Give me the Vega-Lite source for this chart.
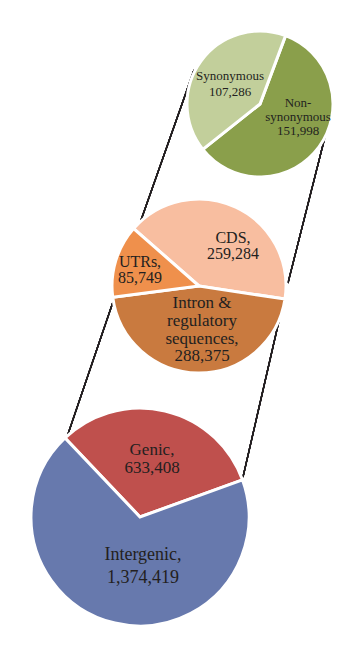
{
  "$schema": "https://vega.github.io/schema/vega-lite/v6.json",
  "width": 363,
  "height": 660,
  "autosize": {"type": "fit", "contains": "padding"},
  "padding": 0,
  "background": "white",
  "config": {"view": {"stroke": null}, "text": {"font": "Liberation Serif", "fill": "#231f20"}},
  "data": {
    "values": [
      {"pie": "Genome", "label": "Genic", "value": 633408, "text": ["Genic,", "633,408"]},
      {"pie": "Genome", "label": "Intergenic", "value": 1374419, "text": ["Intergenic,", "1,374,419"]},
      {"pie": "Genic", "label": "CDS", "value": 259284, "text": ["CDS,", "259,284"]},
      {"pie": "Genic", "label": "Intron & regulatory sequences", "value": 288375, "text": ["Intron &", "regulatory", "sequences,", "288,375"]},
      {"pie": "Genic", "label": "UTRs", "value": 85749, "text": ["UTRs,", "85,749"]},
      {"pie": "CDS", "label": "Non-synonymous", "value": 151998, "text": ["Non-", "synonymous", "151,998"]},
      {"pie": "CDS", "label": "Synonymous", "value": 107286, "text": ["Synonymous", "107,286"]}
    ]
  },
  "layer": [
    {
      "mark": {"type": "rule", "color": "#231f20", "strokeWidth": 1.3},
      "encoding": {
        "x": {"datum": 67, "type": "quantitative", "scale": {"domain": [0, 363], "nice": false, "zero": false}, "axis": null},
        "y": {"datum": 437, "type": "quantitative", "scale": {"domain": [0, 660], "nice": false, "zero": false, "reverse": true}, "axis": null},
        "x2": {"datum": 114},
        "y2": {"datum": 299}
      }
    },
    {
      "mark": {"type": "rule", "color": "#231f20", "strokeWidth": 1.3},
      "encoding": {
        "x": {"datum": 243, "type": "quantitative"},
        "y": {"datum": 477, "type": "quantitative"},
        "x2": {"datum": 284},
        "y2": {"datum": 299}
      }
    },
    {
      "mark": {"type": "rule", "color": "#231f20", "strokeWidth": 1.3},
      "encoding": {
        "x": {"datum": 140, "type": "quantitative"},
        "y": {"datum": 223, "type": "quantitative"},
        "x2": {"datum": 194},
        "y2": {"datum": 70}
      }
    },
    {
      "mark": {"type": "rule", "color": "#231f20", "strokeWidth": 1.3},
      "encoding": {
        "x": {"datum": 288, "type": "quantitative"},
        "y": {"datum": 283, "type": "quantitative"},
        "x2": {"datum": 330},
        "y2": {"datum": 117}
      }
    },
    {
      "transform": [{"filter": "datum.pie === 'Genome'"}],
      "mark": {"type": "arc", "outerRadius": 109, "stroke": "white", "strokeWidth": 3},
      "encoding": {
        "x": {"datum": 140, "type": "quantitative"},
        "y": {"datum": 517, "type": "quantitative"},
        "theta": {"field": "value", "type": "quantitative", "stack": true, "scale": {"range": [-0.759, 5.524]}},
        "order": {"field": "label", "sort": "ascending"},
        "color": {
          "field": "label", "type": "nominal", "legend": null,
          "scale": {
            "domain": ["Genic", "Intergenic", "CDS", "Intron & regulatory sequences", "UTRs", "Non-synonymous", "Synonymous"],
            "range": ["#bf504d", "#6779ad", "#f8bea0", "#c97a3f", "#ef904c", "#8a9f4b", "#c2cf9b"]
          }
        }
      }
    },
    {
      "transform": [{"filter": "datum.pie === 'Genic'"}],
      "mark": {"type": "arc", "outerRadius": 87, "stroke": "white", "strokeWidth": 3},
      "encoding": {
        "x": {"datum": 199, "type": "quantitative"},
        "y": {"datum": 286, "type": "quantitative"},
        "theta": {"field": "value", "type": "quantitative", "stack": true, "scale": {"range": [-0.85, 5.433]}},
        "order": {"field": "label", "sort": "ascending"},
        "color": {"field": "label", "type": "nominal", "legend": null}
      }
    },
    {
      "transform": [{"filter": "datum.pie === 'CDS'"}],
      "mark": {"type": "arc", "outerRadius": 73, "stroke": "white", "strokeWidth": 3},
      "encoding": {
        "x": {"datum": 260, "type": "quantitative"},
        "y": {"datum": 104, "type": "quantitative"},
        "theta": {"field": "value", "type": "quantitative", "stack": true, "scale": {"range": [0.358, 6.641]}},
        "order": {"field": "label", "sort": "ascending"},
        "color": {"field": "label", "type": "nominal", "legend": null}
      }
    },
    {
      "transform": [{"filter": "datum.label === 'Genic'"}],
      "mark": {"type": "text", "fontSize": 17, "lineHeight": 18, "align": "center", "baseline": "alphabetic"},
      "encoding": {"x": {"datum": 152, "type": "quantitative"}, "y": {"datum": 455, "type": "quantitative"}, "text": {"field": "text"}}
    },
    {
      "transform": [{"filter": "datum.label === 'Intergenic'"}],
      "mark": {"type": "text", "fontSize": 18, "lineHeight": 22.5, "align": "center", "baseline": "alphabetic"},
      "encoding": {"x": {"datum": 143, "type": "quantitative"}, "y": {"datum": 560, "type": "quantitative"}, "text": {"field": "text"}}
    },
    {
      "transform": [{"filter": "datum.label === 'CDS'"}],
      "mark": {"type": "text", "fontSize": 16, "lineHeight": 16, "align": "center", "baseline": "alphabetic"},
      "encoding": {"x": {"datum": 233, "type": "quantitative"}, "y": {"datum": 242.5, "type": "quantitative"}, "text": {"field": "text"}}
    },
    {
      "transform": [{"filter": "datum.label === 'UTRs'"}],
      "mark": {"type": "text", "fontSize": 16, "lineHeight": 16, "align": "center", "baseline": "alphabetic"},
      "encoding": {"x": {"datum": 140, "type": "quantitative"}, "y": {"datum": 267, "type": "quantitative"}, "text": {"field": "text"}}
    },
    {
      "transform": [{"filter": "datum.label === 'Intron & regulatory sequences'"}],
      "mark": {"type": "text", "fontSize": 17, "lineHeight": 17.8, "align": "center", "baseline": "alphabetic"},
      "encoding": {"x": {"datum": 202, "type": "quantitative"}, "y": {"datum": 308, "type": "quantitative"}, "text": {"field": "text"}}
    },
    {
      "transform": [{"filter": "datum.label === 'Synonymous'"}],
      "mark": {"type": "text", "fontSize": 13, "lineHeight": 16, "align": "center", "baseline": "alphabetic"},
      "encoding": {"x": {"datum": 230, "type": "quantitative"}, "y": {"datum": 80, "type": "quantitative"}, "text": {"field": "text"}}
    },
    {
      "transform": [{"filter": "datum.label === 'Non-synonymous'"}],
      "mark": {"type": "text", "fontSize": 13, "lineHeight": 14, "align": "center", "baseline": "alphabetic"},
      "encoding": {"x": {"datum": 298, "type": "quantitative"}, "y": {"datum": 107, "type": "quantitative"}, "text": {"field": "text"}}
    }
  ],
  "resolve": {"scale": {"theta": "independent"}}
}
